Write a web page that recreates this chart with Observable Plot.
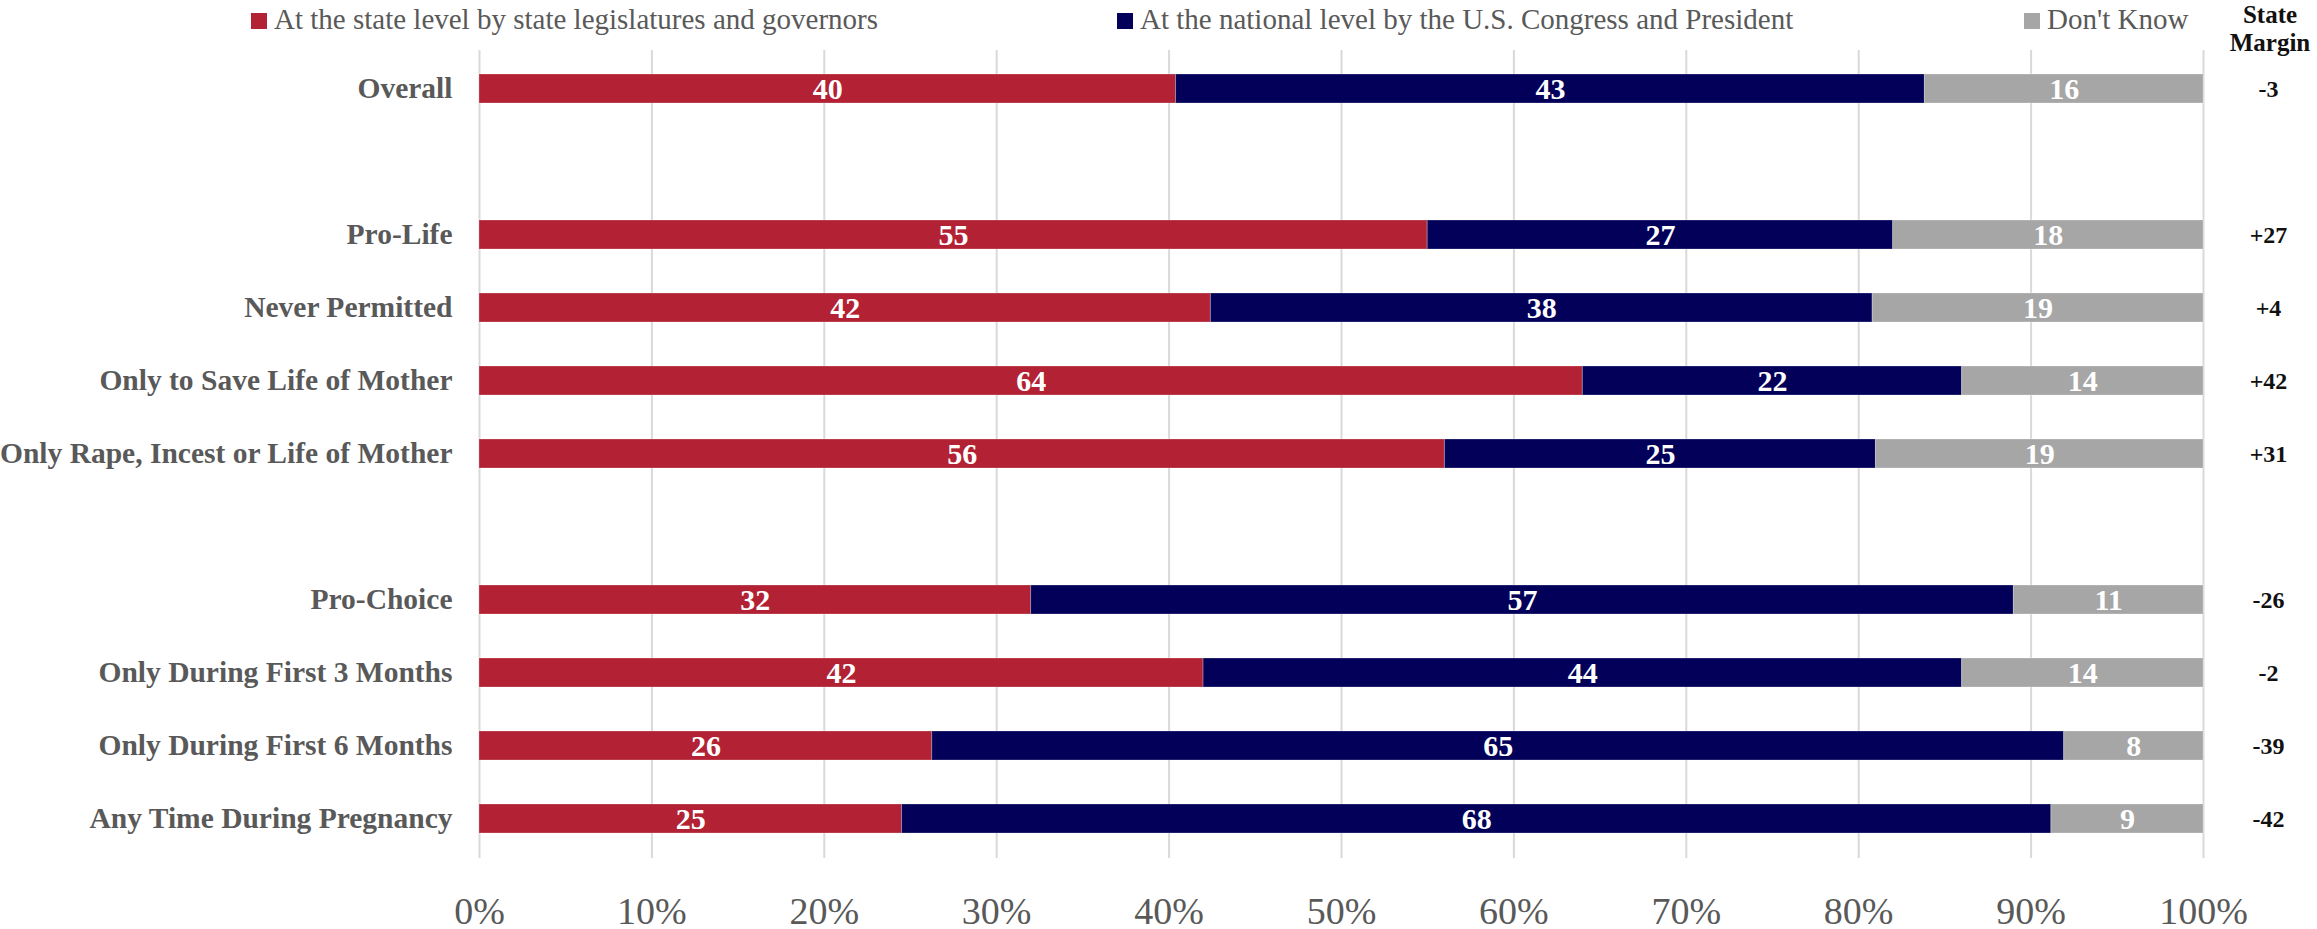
<!DOCTYPE html>
<html>
<head>
<meta charset="utf-8">
<script src="https://cdn.jsdelivr.net/npm/d3@7"></script>
<script src="https://cdn.jsdelivr.net/npm/@observablehq/plot@0.6"></script>
<style>
  html, body { margin: 0; padding: 0; background: #fff; }
  #wrap { position: relative; width: 2317px; height: 929px; font-family: "Liberation Serif", serif; }
  #legend { position: relative; height: 40px; width: 2317px; }
  .li { position: absolute; top: 2px; font-size: 29px; color: #595959; white-space: nowrap; line-height: 34px; }
  .sw { display: inline-block; width: 16px; height: 16px; margin-right: 7px; vertical-align: baseline; }
  #hdr { position: absolute; top: 1px; left: 2228px; width: 84px; text-align: center; font-weight: bold; font-size: 25px; line-height: 28px; color: #111; }
  #chart svg { display: block; }
</style>
</head>
<body>
<div id="wrap">
  <div id="legend"></div>
  <div id="chart"></div>
</div>
<script>
// ---- Data ----
const categories = [
  "Overall",
  "Pro-Life",
  "Never Permitted",
  "Only to Save Life of Mother",
  "Only Rape, Incest or Life of Mother",
  "Pro-Choice",
  "Only During First 3 Months",
  "Only During First 6 Months",
  "Any Time During Pregnancy"
];
const seriesNames = [
  "At the state level by state legislatures and governors",
  "At the national level by the U.S. Congress and President",
  "Don't Know"
];
const stateLevel    = [40, 55, 42, 64, 56, 32, 42, 26, 25];
const nationalLevel = [43, 27, 38, 22, 25, 57, 44, 65, 68];
const dontKnow      = [16, 18, 19, 14, 19, 11, 14,  8,  9];
const stateMargin   = ["-3", "+27", "+4", "+42", "+31", "-26", "-2", "-39", "-42"];
const xTicks = [0, 0.1, 0.2, 0.3, 0.4, 0.5, 0.6, 0.7, 0.8, 0.9, 1.0];
const colors = ["#B22234", "#020059", "#A6A6A6"];

// band domain with blank spacer rows
const yDomain = [categories[0], "gap1", categories[1], categories[2], categories[3], categories[4], "gap2",
  categories[5], categories[6], categories[7], categories[8]];

const rows = [];
categories.forEach((c, i) => {
  [stateLevel[i], nationalLevel[i], dontKnow[i]].forEach((v, j) => {
    rows.push({cat: c, series: seriesNames[j], value: v});
  });
});
const marginRows = categories.map((c, i) => ({cat: c, m: stateMargin[i]}));

// ---- Legend ----
const legend = document.getElementById("legend");
const legendLeft = [251, 1117, 2024];
seriesNames.forEach((s, i) => {
  const d = document.createElement("div");
  d.className = "li";
  d.style.left = legendLeft[i] + "px";
  d.innerHTML = `<span class="sw" style="background:${colors[i]}"></span>${s}`;
  legend.appendChild(d);
});
const hdr = document.createElement("div");
hdr.id = "hdr";
hdr.innerHTML = "State<br>Margin";
document.getElementById("wrap").appendChild(hdr);

// ---- Chart ----
const chart = Plot.plot({
  width: 2317,
  height: 889,
  marginLeft: 479,
  marginRight: 114,
  marginTop: 10,
  marginBottom: 71,
  style: {fontFamily: "'Liberation Serif', serif", background: "transparent", overflow: "visible"},
  x: {domain: [0, 1]},
  y: {domain: yDomain, paddingInner: 0.6, paddingOuter: 0.3},
  color: {domain: seriesNames, range: colors},
  marks: [
    Plot.gridX(xTicks, {stroke: "#D9D9D9", strokeOpacity: 1, strokeWidth: 2}),
    Plot.axisX(xTicks, {tickSize: 0, tickPadding: 39, tickFormat: d3.format(".0%"), fontSize: 38, fill: "#595959", label: null}),
    Plot.axisY(categories, {tickSize: 0, tickPadding: 27, fontSize: 29.5, fontWeight: "bold", fill: "#595959", label: null}),
    Plot.barX(rows, Plot.stackX({x: "value", y: "cat", fill: "series", offset: "normalize", stroke: "#ffffff", strokeOpacity: 0.25, strokeWidth: 1})),
    Plot.textX(rows, Plot.stackX({x: "value", y: "cat", z: "series", offset: "normalize", text: d => String(d.value), fill: "white", fontSize: 30, fontWeight: "bold"})),
    Plot.text(marginRows, {x: () => 1, y: "cat", text: "m", dx: 65, fontSize: 24, fontWeight: "bold", fill: "#111"})
  ]
});
document.getElementById("chart").appendChild(chart);
</script>
</body>
</html>
